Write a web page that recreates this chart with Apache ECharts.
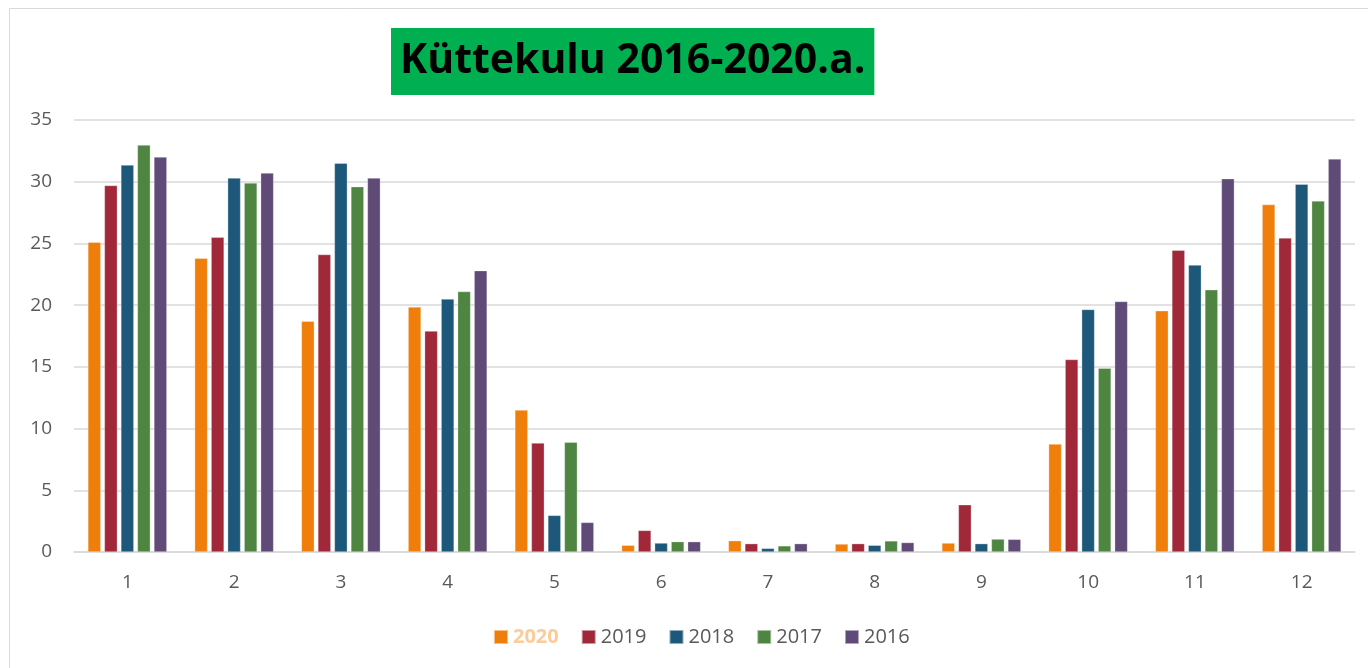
<!DOCTYPE html>
<html>
<head>
<meta charset="utf-8">
<script src="https://cdn.jsdelivr.net/npm/echarts@6/dist/echarts.min.js"></script>
<style>
html,body{margin:0;padding:0;background:#fff;}
#c{width:1368px;height:668px;}
</style>
</head>
<body>
<div id="c"></div>
<script>
const categories = ['1','2','3','4','5','6','7','8','9','10','11','12'];
const seriesNames = ['2020','2019','2018','2017','2016'];
const v2020 = [25.1, 23.8, 18.7, 19.85, 11.5, 0.55, 0.92, 0.65, 0.73, 8.75, 19.55, 28.15];
const v2019 = [29.7, 25.5, 24.1, 17.9, 8.83, 1.75, 0.68, 0.68, 3.83, 15.6, 24.45, 25.45];
const v2018 = [31.35, 30.3, 31.5, 20.5, 2.97, 0.73, 0.3, 0.55, 0.68, 19.65, 23.25, 29.8];
const v2017 = [32.97, 29.9, 29.6, 21.1, 8.9, 0.84, 0.5, 0.9, 1.05, 14.9, 21.25, 28.45];
const v2016 = [32.0, 30.7, 30.3, 22.8, 2.4, 0.84, 0.68, 0.77, 1.03, 20.3, 30.25, 31.85];
const yTicks = [0, 5, 10, 15, 20, 25, 30, 35];

const colors = ['#EF7F0A', '#A12838', '#1D587B', '#4E8540', '#604A78'];
const allValues = [v2020, v2019, v2018, v2017, v2016];
const font = '"Open Sans", "Noto Sans", sans-serif';

const chart = echarts.init(document.getElementById('c'), null, {renderer: 'canvas'});
chart.setOption({
  animation: false,
  backgroundColor: '#fff',
  graphic: [{
    type: 'rect', shape: {x: 9.5, y: 8.5, width: 1400, height: 700},
    style: {fill: 'none', stroke: '#D9D9D9', lineWidth: 1}, silent: true
  }],
  title: {
    text: 'Küttekulu 2016-2020.a.',
    left: 391, top: 28,
    backgroundColor: '#00B050',
    padding: [12, 9, 12, 9],
    textStyle: {fontFamily: font, fontWeight: 'bold', fontSize: 41, color: '#000', lineHeight: 43}
  },
  legend: {
    bottom: 16, left: 488,
    itemWidth: 14, itemHeight: 14, itemGap: 22,
    icon: 'rect',
    textStyle: {fontFamily: font, fontSize: 20, color: '#595959'},
    data: seriesNames.map((n, i) => i === 0 ? {name: n, textStyle: {color: '#FDCB98', fontWeight: 'bold'}} : {name: n})
  },
  grid: {left: 74, right: 13, top: 120, bottom: 116, containLabel: false},
  xAxis: {
    type: 'category', data: categories,
    axisLine: {lineStyle: {color: '#D9D9D9', width: 1.5}},
    axisTick: {show: false},
    axisLabel: {fontFamily: font, fontSize: 19, color: '#595959', margin: 21}
  },
  yAxis: {
    type: 'value', min: 0, max: 35, interval: 5,
    axisLine: {show: false}, axisTick: {show: false},
    splitLine: {lineStyle: {color: '#D9D9D9', width: 1.5}},
    axisLabel: {fontFamily: font, fontSize: 19, color: '#595959', margin: 22,
      formatter: v => yTicks.includes(v) ? String(v) : ''}
  },
  series: seriesNames.map((n, i) => ({
    name: n, type: 'bar', data: allValues[i],
    barWidth: 13, barGap: '27%',
    itemStyle: {color: colors[i], borderColor: 'rgba(255,255,255,0.5)', borderWidth: 0.6}
  }))
});
</script>
</body>
</html>
